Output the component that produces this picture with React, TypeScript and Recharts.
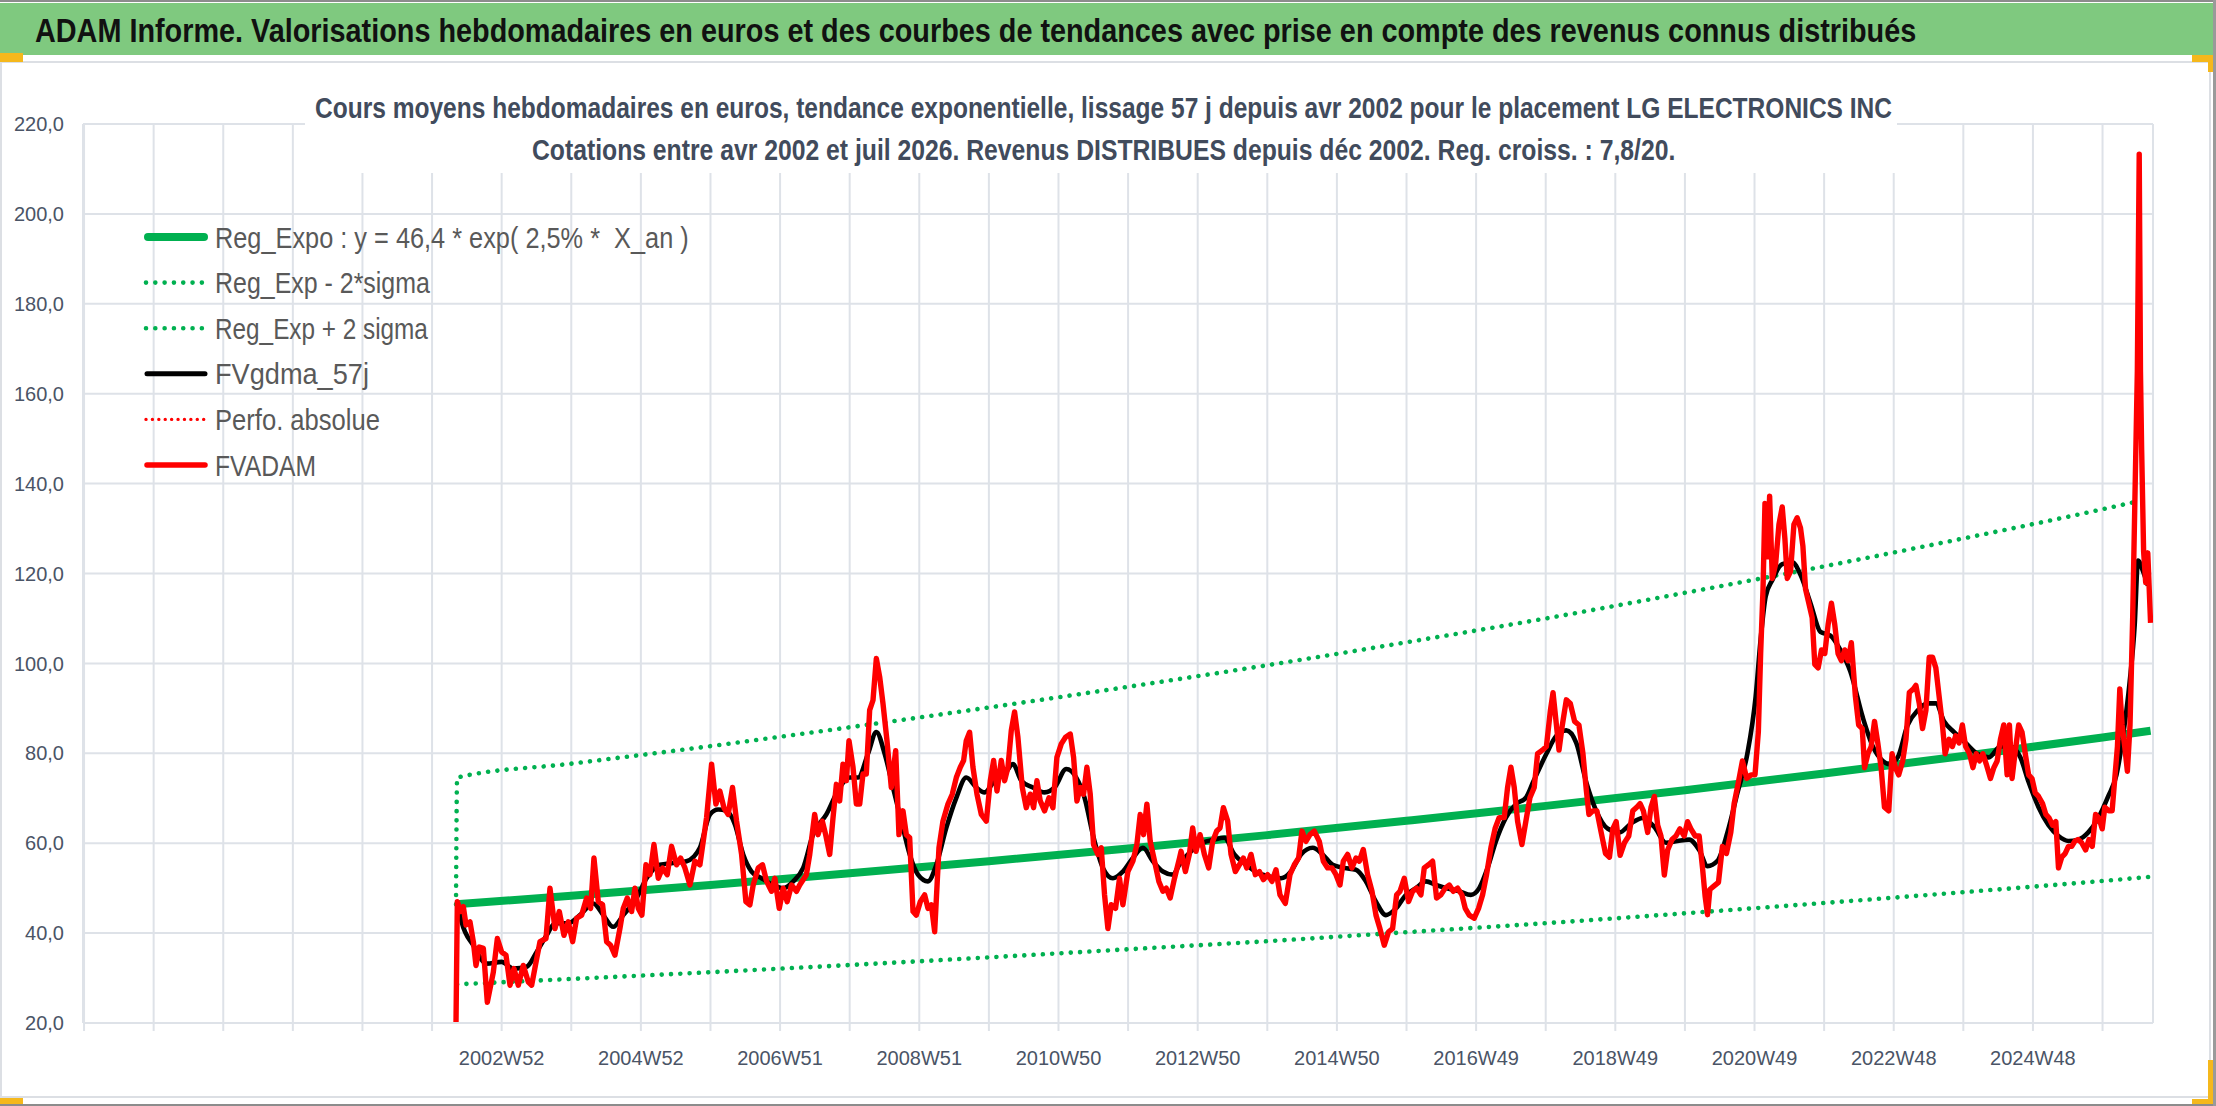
import React, { useLayoutEffect, useRef, useState } from "react";
import { LineChart, Line, XAxis, YAxis, CartesianGrid, Legend } from "recharts";

// axes
const yTicks = [20, 40, 60, 80, 100, 120, 140, 160, 180, 200, 220];
const xTickYears = [
  1997, 1998, 1999, 2000, 2001, 2002, 2003, 2004, 2005, 2006, 2007, 2008, 2009, 2010, 2011,
  2012, 2013, 2014, 2015, 2016, 2017, 2018, 2019, 2020, 2021, 2022, 2023, 2024, 2025, 2026,
];
const xLabelYears = [2003, 2005, 2007, 2009, 2011, 2013, 2015, 2017, 2019, 2021, 2023, 2025];
const xLabels = [
  "2002W52", "2004W52", "2006W51", "2008W51", "2010W50", "2012W50",
  "2014W50", "2016W49", "2018W49", "2020W49", "2022W48", "2024W48",
];

const legendNames = [
  "Reg_Expo : y = 46,4 * exp( 2,5% *  X_an )",
  "Reg_Exp - 2*sigma",
  "Reg_Exp + 2 sigma",
  "FVgdma_57j",
  "Perfo. absolue",
  "FVADAM",
];

// [year, value]
const regExpo: [number, number][] = [
  [2002.344, 46.4], [2004, 48.3], [2006, 50.7], [2008, 53.3], [2010, 56.0], [2012, 58.8],
  [2014, 61.8], [2016, 65.0], [2018, 68.3], [2020, 71.8], [2022, 75.5], [2024, 79.4],
  [2026, 83.5], [2026.69, 85.0],
];
const regExpMinus: [number, number][] = [
  [2002.36, 28.6], [2004, 29.8], [2006, 31.3], [2008, 32.9], [2010, 34.6], [2012, 36.4],
  [2014, 38.2], [2016, 40.2], [2018, 42.2], [2020, 44.4], [2022, 46.7], [2024, 49.1],
  [2026, 51.6], [2026.67, 52.5],
];
const regExpPlus: [number, number][] = [
  [2002.344, 46.4], [2002.36, 74.6], [2004, 77.7], [2006, 81.6], [2008, 85.8], [2010, 90.2],
  [2012, 94.8], [2014, 99.6], [2016, 104.7], [2018, 110.0], [2020, 115.7], [2022, 121.6],
  [2024, 127.8], [2026, 134.3], [2026.46, 135.9],
];

const fvgdma: [number, number][] = [
  [2002.363, 47.0], [2002.425, 42.5], [2002.593, 37.3], [2002.785, 33.2], [2003.0, 33.6],
  [2003.168, 32.1], [2003.359, 32.5], [2003.503, 35.8], [2003.646, 39.5], [2003.766, 42.2],
  [2003.957, 42.2], [2004.125, 44.0], [2004.316, 46.6], [2004.46, 44.0], [2004.603, 41.4],
  [2004.747, 44.0], [2004.938, 47.8], [2005.082, 52.2], [2005.274, 55.2], [2005.465, 55.6],
  [2005.656, 56.0], [2005.848, 59.0], [2005.992, 66.4], [2006.111, 67.5], [2006.231, 67.2],
  [2006.351, 64.2], [2006.47, 57.5], [2006.59, 53.7], [2006.734, 52.2], [2006.901, 50.7],
  [2007.045, 50.0], [2007.188, 51.5], [2007.332, 54.5], [2007.473, 61.9], [2007.665, 66.4],
  [2007.856, 72.4], [2008.0, 74.6], [2008.12, 74.6], [2008.263, 79.9], [2008.383, 84.7],
  [2008.503, 79.9], [2008.622, 72.4], [2008.742, 64.9], [2008.862, 57.5], [2008.981, 53.0],
  [2009.125, 51.5], [2009.245, 55.2], [2009.388, 63.4], [2009.532, 70.1], [2009.675, 74.6],
  [2009.819, 72.4], [2009.939, 71.3], [2010.082, 73.9], [2010.226, 75.4], [2010.346, 77.6],
  [2010.465, 73.9], [2010.633, 72.4], [2010.8, 71.3], [2010.944, 72.4], [2011.112, 76.5],
  [2011.255, 74.6], [2011.375, 70.1], [2011.494, 61.9], [2011.638, 54.5], [2011.782, 52.2],
  [2011.925, 53.7], [2012.069, 56.7], [2012.213, 59.0], [2012.356, 56.0], [2012.5, 53.7],
  [2012.643, 53.0], [2012.737, 55.2], [2012.904, 58.2], [2013.072, 60.1], [2013.239, 60.8],
  [2013.383, 61.2], [2013.527, 57.5], [2013.694, 55.2], [2013.862, 53.4], [2014.029, 52.6],
  [2014.197, 52.2], [2014.34, 53.7], [2014.484, 57.5], [2014.652, 59.0], [2014.795, 57.5],
  [2014.939, 55.2], [2015.106, 54.5], [2015.274, 54.1], [2015.417, 51.5], [2015.561, 47.0],
  [2015.705, 44.0], [2015.848, 45.5], [2015.992, 48.5], [2016.136, 50.0], [2016.279, 51.5],
  [2016.423, 50.7], [2016.566, 50.0], [2016.758, 49.3], [2016.925, 48.5], [2017.045, 50.0],
  [2017.165, 54.5], [2017.284, 60.4], [2017.428, 65.7], [2017.572, 68.7], [2017.715, 70.1],
  [2017.819, 73.6], [2018.01, 79.9], [2018.153, 83.9], [2018.296, 85.1], [2018.439, 82.3],
  [2018.582, 73.6], [2018.726, 67.2], [2018.893, 63.2], [2019.06, 62.4], [2019.227, 64.4],
  [2019.394, 65.6], [2019.561, 63.6], [2019.728, 60.1], [2019.895, 60.5], [2020.062, 60.8],
  [2020.205, 58.5], [2020.325, 54.9], [2020.468, 56.1], [2020.611, 62.4], [2020.754, 71.2],
  [2020.897, 79.9], [2021.017, 92.7], [2021.088, 105.4], [2021.16, 114.9], [2021.255, 118.5],
  [2021.398, 122.1], [2021.542, 122.5], [2021.661, 119.7], [2021.804, 113.4], [2021.947, 107.0],
  [2022.091, 106.2], [2022.234, 103.0], [2022.377, 98.2], [2022.557, 87.9], [2022.7, 81.5],
  [2022.843, 78.3], [2022.938, 77.6], [2023.057, 79.1], [2023.2, 86.3], [2023.343, 89.5],
  [2023.486, 91.1], [2023.605, 91.1], [2023.724, 87.1], [2023.867, 84.7], [2024.033, 82.3],
  [2024.2, 79.9], [2024.367, 79.1], [2024.533, 81.5], [2024.676, 81.5], [2024.819, 79.1],
  [2024.938, 73.6], [2025.081, 68.0], [2025.224, 64.0], [2025.367, 61.6], [2025.51, 60.5],
  [2025.652, 60.8], [2025.795, 62.4], [2025.938, 65.6], [2026.081, 70.4], [2026.2, 75.2],
  [2026.295, 83.9], [2026.39, 95.9], [2026.462, 108.6], [2026.51, 122.9], [2026.581, 120.5],
  [2026.652, 117.3],
];

const fvadam: [number, number][] = [
  [2002.344, 20], [2002.363, 47.0], [2002.411, 44.8], [2002.449, 45.9], [2002.488, 41.8],
  [2002.545, 42.5], [2002.593, 38.1], [2002.631, 32.8], [2002.679, 36.9], [2002.737, 36.6],
  [2002.794, 24.6], [2002.88, 31.3], [2002.938, 38.8], [2003.0, 35.8], [2003.062, 35.1],
  [2003.12, 28.4], [2003.177, 32.1], [2003.239, 28.4], [2003.311, 32.8], [2003.383, 29.1],
  [2003.431, 28.4], [2003.503, 34.3], [2003.551, 38.1], [2003.637, 38.8], [2003.694, 50.0],
  [2003.766, 41.0], [2003.828, 44.8], [2003.895, 39.5], [2003.957, 42.5], [2004.02, 38.1],
  [2004.077, 43.3], [2004.149, 44.0], [2004.221, 47.8], [2004.278, 45.5], [2004.326, 56.7],
  [2004.388, 47.0], [2004.45, 46.3], [2004.508, 38.1], [2004.565, 37.3], [2004.627, 35.1],
  [2004.699, 41.0], [2004.747, 45.5], [2004.805, 47.8], [2004.867, 44.8], [2004.915, 50.0],
  [2004.963, 45.5], [2005.015, 44.0], [2005.073, 55.2], [2005.13, 53.0], [2005.188, 59.7],
  [2005.25, 52.2], [2005.312, 54.5], [2005.379, 53.0], [2005.441, 59.3], [2005.513, 55.2],
  [2005.571, 56.7], [2005.633, 54.5], [2005.705, 50.7], [2005.776, 56.0], [2005.848, 55.2],
  [2005.896, 60.4], [2005.944, 65.7], [2006.016, 77.6], [2006.078, 68.7], [2006.135, 71.6],
  [2006.193, 67.9], [2006.255, 66.4], [2006.317, 72.4], [2006.375, 64.9], [2006.447, 57.5],
  [2006.509, 47.0], [2006.566, 46.3], [2006.614, 50.7], [2006.686, 54.5], [2006.748, 55.2],
  [2006.806, 51.5], [2006.877, 49.3], [2006.925, 52.2], [2006.988, 45.5], [2007.045, 50.0],
  [2007.102, 47.0], [2007.165, 50.7], [2007.236, 49.3], [2007.282, 50.7], [2007.378, 53.0],
  [2007.426, 57.5], [2007.497, 66.4], [2007.545, 61.9], [2007.607, 64.9], [2007.655, 61.9],
  [2007.713, 57.5], [2007.761, 65.7], [2007.809, 73.1], [2007.856, 69.4], [2007.904, 77.6],
  [2007.952, 73.9], [2007.99, 82.8], [2008.048, 76.9], [2008.096, 68.7], [2008.144, 68.7],
  [2008.191, 75.4], [2008.239, 75.4], [2008.287, 89.6], [2008.335, 91.8], [2008.383, 101.1],
  [2008.431, 97.0], [2008.479, 91.0], [2008.536, 82.8], [2008.598, 72.4], [2008.661, 80.6],
  [2008.708, 61.9], [2008.766, 67.2], [2008.814, 61.9], [2008.862, 61.2], [2008.91, 44.8],
  [2008.957, 44.0], [2009.015, 47.0], [2009.077, 48.5], [2009.125, 45.5], [2009.173, 46.3],
  [2009.221, 40.3], [2009.283, 59.0], [2009.34, 64.9], [2009.412, 68.7], [2009.474, 70.9],
  [2009.532, 74.6], [2009.589, 76.9], [2009.637, 78.4], [2009.675, 82.8], [2009.723, 84.7],
  [2009.771, 76.9], [2009.829, 70.9], [2009.891, 66.4], [2009.963, 64.9], [2010.02, 73.9],
  [2010.068, 78.4], [2010.116, 71.6], [2010.178, 78.4], [2010.226, 73.9], [2010.274, 76.9],
  [2010.322, 85.1], [2010.369, 89.2], [2010.417, 83.6], [2010.48, 72.4], [2010.537, 67.9],
  [2010.594, 70.9], [2010.642, 67.9], [2010.69, 73.9], [2010.738, 69.4], [2010.8, 67.2],
  [2010.863, 70.1], [2010.92, 67.9], [2010.977, 79.1], [2011.04, 82.1], [2011.102, 83.6],
  [2011.169, 84.3], [2011.217, 79.1], [2011.265, 69.4], [2011.313, 72.4], [2011.36, 70.9],
  [2011.408, 76.9], [2011.456, 70.9], [2011.504, 59.7], [2011.566, 57.5], [2011.614, 59.0],
  [2011.662, 48.5], [2011.71, 41.0], [2011.758, 46.3], [2011.82, 45.5], [2011.877, 52.2],
  [2011.925, 46.3], [2011.997, 53.7], [2012.069, 56.0], [2012.126, 59.7], [2012.174, 66.4],
  [2012.222, 61.9], [2012.27, 68.7], [2012.318, 60.4], [2012.38, 56.0], [2012.442, 51.5],
  [2012.5, 49.3], [2012.548, 50.0], [2012.605, 47.8], [2012.667, 52.2], [2012.739, 56.7],
  [2012.761, 58.2], [2012.823, 53.7], [2012.88, 57.5], [2012.928, 63.4], [2012.976, 58.2],
  [2013.034, 61.9], [2013.096, 57.5], [2013.158, 54.5], [2013.215, 60.4], [2013.273, 62.7],
  [2013.321, 63.4], [2013.369, 67.9], [2013.431, 64.9], [2013.479, 57.5], [2013.541, 53.7],
  [2013.598, 55.2], [2013.656, 56.7], [2013.704, 54.5], [2013.766, 57.5], [2013.828, 53.0],
  [2013.886, 53.7], [2013.943, 51.9], [2014.005, 53.0], [2014.067, 51.5], [2014.125, 54.1],
  [2014.182, 48.5], [2014.259, 46.6], [2014.326, 53.0], [2014.388, 55.2], [2014.45, 56.7],
  [2014.498, 62.7], [2014.555, 60.4], [2014.613, 61.9], [2014.675, 62.7], [2014.747, 60.4],
  [2014.805, 56.0], [2014.867, 54.5], [2014.929, 54.5], [2014.987, 53.0], [2015.044, 50.7],
  [2015.092, 56.0], [2015.154, 57.5], [2015.216, 54.5], [2015.274, 56.7], [2015.322, 56.0],
  [2015.379, 58.6], [2015.441, 53.0], [2015.504, 49.3], [2015.561, 44.0], [2015.618, 41.0],
  [2015.681, 37.3], [2015.743, 40.3], [2015.8, 41.0], [2015.858, 48.5], [2015.906, 49.3],
  [2015.968, 52.2], [2016.03, 47.0], [2016.088, 49.3], [2016.145, 50.0], [2016.207, 48.5],
  [2016.255, 54.5], [2016.317, 55.2], [2016.375, 56.0], [2016.432, 47.8], [2016.494, 48.5],
  [2016.557, 50.0], [2016.614, 50.7], [2016.672, 49.3], [2016.734, 50.0], [2016.796, 48.5],
  [2016.844, 45.5], [2016.901, 44.0], [2016.973, 43.3], [2017.035, 45.5], [2017.093, 48.5],
  [2017.15, 53.0], [2017.213, 59.0], [2017.275, 63.4], [2017.332, 65.7], [2017.404, 65.7],
  [2017.452, 72.4], [2017.5, 76.9], [2017.548, 72.4], [2017.596, 64.9], [2017.658, 59.7],
  [2017.715, 64.9], [2017.773, 70.1], [2017.835, 72.4], [2017.883, 79.9], [2017.952, 80.7],
  [2018.01, 81.5], [2018.067, 89.5], [2018.105, 93.5], [2018.143, 87.9], [2018.191, 80.7],
  [2018.239, 86.3], [2018.296, 91.9], [2018.353, 91.1], [2018.415, 87.1], [2018.477, 86.3],
  [2018.535, 79.9], [2018.582, 72.0], [2018.621, 66.4], [2018.678, 67.2], [2018.735, 67.2],
  [2018.797, 62.4], [2018.859, 57.7], [2018.916, 56.9], [2018.964, 63.2], [2019.012, 64.8],
  [2019.069, 57.3], [2019.131, 60.1], [2019.193, 61.6], [2019.251, 67.2], [2019.308, 68.0],
  [2019.356, 68.8], [2019.403, 67.2], [2019.465, 62.4], [2019.513, 68.0], [2019.561, 70.4],
  [2019.609, 64.0], [2019.656, 61.6], [2019.704, 52.9], [2019.752, 58.5], [2019.814, 60.8],
  [2019.871, 61.6], [2019.928, 63.2], [2019.99, 61.6], [2020.038, 64.8], [2020.086, 63.2],
  [2020.148, 61.6], [2020.205, 61.6], [2020.253, 54.5], [2020.291, 48.1], [2020.325, 44.1],
  [2020.358, 49.7], [2020.42, 50.5], [2020.482, 51.3], [2020.539, 59.3], [2020.597, 57.7],
  [2020.659, 62.4], [2020.707, 68.8], [2020.769, 73.6], [2020.826, 78.3], [2020.888, 74.4],
  [2020.95, 75.2], [2021.007, 75.2], [2021.055, 84.8], [2021.088, 102.2], [2021.122, 116.5],
  [2021.15, 135.6], [2021.184, 123.7], [2021.217, 137.2], [2021.255, 118.9], [2021.303, 122.1],
  [2021.351, 130.9], [2021.398, 134.8], [2021.437, 127.6], [2021.47, 118.9], [2021.518, 120.5],
  [2021.566, 130.9], [2021.613, 132.4], [2021.661, 130.1], [2021.695, 126.1], [2021.733, 116.5],
  [2021.78, 113.4], [2021.828, 110.2], [2021.866, 99.8], [2021.914, 99.0], [2021.962, 103.0],
  [2022.01, 102.2], [2022.057, 108.6], [2022.105, 113.4], [2022.153, 108.6], [2022.2, 102.2],
  [2022.248, 100.6], [2022.296, 103.0], [2022.344, 100.6], [2022.391, 104.6], [2022.449, 92.7],
  [2022.496, 86.3], [2022.548, 85.5], [2022.581, 76.8], [2022.629, 79.9], [2022.676, 81.5],
  [2022.724, 87.1], [2022.771, 82.3], [2022.819, 76.8], [2022.867, 68.0], [2022.929, 67.2],
  [2022.976, 79.9], [2023.024, 76.8], [2023.071, 75.2], [2023.129, 78.3], [2023.176, 83.1],
  [2023.224, 93.5], [2023.281, 94.3], [2023.319, 95.1], [2023.367, 91.1], [2023.414, 85.5],
  [2023.462, 89.5], [2023.51, 101.4], [2023.557, 101.4], [2023.605, 99.0], [2023.652, 92.7],
  [2023.7, 86.3], [2023.738, 79.9], [2023.795, 83.1], [2023.843, 81.5], [2023.89, 83.9],
  [2023.938, 82.3], [2023.986, 86.3], [2024.033, 81.5], [2024.09, 79.9], [2024.138, 76.8],
  [2024.186, 79.9], [2024.233, 78.3], [2024.281, 79.9], [2024.329, 77.6], [2024.39, 74.4],
  [2024.438, 76.8], [2024.486, 78.3], [2024.533, 83.1], [2024.581, 86.3], [2024.629, 75.2],
  [2024.662, 86.3], [2024.7, 74.4], [2024.748, 80.7], [2024.795, 86.3], [2024.843, 84.7],
  [2024.89, 79.9], [2024.938, 75.2], [2024.986, 74.4], [2025.033, 71.2], [2025.081, 70.4],
  [2025.138, 68.8], [2025.186, 66.4], [2025.233, 65.6], [2025.281, 64.0], [2025.329, 64.8],
  [2025.367, 54.5], [2025.414, 56.9], [2025.462, 57.7], [2025.51, 59.3], [2025.557, 59.3],
  [2025.605, 60.5], [2025.652, 60.8], [2025.7, 60.1], [2025.757, 58.5], [2025.805, 60.8],
  [2025.852, 59.3], [2025.9, 66.4], [2025.948, 65.6], [2025.995, 63.2], [2026.033, 68.0],
  [2026.09, 67.2], [2026.138, 67.2], [2026.176, 74.4], [2026.214, 81.5], [2026.248, 94.3],
  [2026.281, 86.3], [2026.319, 81.5], [2026.357, 76.0], [2026.395, 86.3], [2026.433, 110.2],
  [2026.462, 134.0], [2026.5, 165.0], [2026.527, 213.3], [2026.545, 165.0], [2026.562, 147.5],
  [2026.59, 125.0], [2026.62, 118.0], [2026.65, 124.6], [2026.69, 109.0],
];

const FONT = '"Liberation Sans", Arial, sans-serif';
const GRID = "#dee2e8";
const AXIS_TEXT = "#4a5466";
const TITLE_TEXT = "#414b5c";
const GREEN = "#00b050";
const RED = "#ff0000";
const HANDLE = "#f5b81c";

const toPoints = (rows: [number, number][]) => rows.map(([x, v]) => ({ x, v }));

const fmtY = (v: number) => v.toFixed(1).replace(".", ",");
const fmtX = (v: number) => {
  const i = xLabelYears.indexOf(v);
  return i >= 0 ? xLabels[i] : "";
};

// text squeezed horizontally to a measured width (the source font is a narrow one)
function FitText({ x, y, width, size, bold, fill, children }: {
  x: number; y: number; width: number; size: number; bold?: boolean; fill: string; children: string;
}) {
  const ref = useRef<SVGTextElement>(null);
  const [sx, setSx] = useState(1);
  useLayoutEffect(() => {
    if (ref.current) {
      const w = ref.current.getComputedTextLength();
      if (w > 0) setSx(width / w);
    }
  }, [width, children, size]);
  return (
    <text
      ref={ref}
      transform={`translate(${x},${y}) scale(${sx},1)`}
      fontSize={size}
      fontWeight={bold ? "bold" : "normal"}
      fill={fill}
      fontFamily={FONT}
      style={{ whiteSpace: "pre" }}
    >
      {children}
    </text>
  );
}

const legendWidths = [474, 215, 213, 154, 165, 101];

function LegendSample({ i, y }: { i: number; y: number }) {
  if (i === 0)
    return <line x1={148} x2={204} y1={y} y2={y} stroke={GREEN} strokeWidth={8} strokeLinecap="round" />;
  if (i === 1 || i === 2)
    return (
      <line x1={146} x2={206} y1={y} y2={y} stroke={GREEN} strokeWidth={4.6}
        strokeLinecap="round" strokeDasharray="0.01 9.3" />
    );
  if (i === 3)
    return <line x1={147} x2={205} y1={y} y2={y} stroke="#000" strokeWidth={5} strokeLinecap="round" />;
  if (i === 4)
    return (
      <line x1={146} x2={206} y1={y} y2={y} stroke={RED} strokeWidth={3.4}
        strokeLinecap="round" strokeDasharray="0.01 6.4" />
    );
  return <line x1={147} x2={205} y1={y} y2={y} stroke={RED} strokeWidth={5.5} strokeLinecap="round" />;
}

function LegendBox() {
  return (
    <svg width={2216} height={1106} style={{ display: "block" }}>
      {legendNames.map((name, i) => {
        const y = 237 + i * 45.6;
        return (
          <g key={name}>
            <LegendSample i={i} y={y} />
            <FitText x={215} y={y + 10.5} width={legendWidths[i]} size={30} fill="#595959">
              {name}
            </FitText>
          </g>
        );
      })}
    </svg>
  );
}

export default function App() {
  return (
    <div
      style={{
        position: "absolute",
        left: 0,
        top: 0,
        width: 2216,
        height: 1106,
        background: "#fff",
        overflow: "hidden",
        fontFamily: FONT,
      }}
    >
      {/* outer frame */}
      <div style={{ position: "absolute", left: 0, top: 0, width: 2216, height: 2, background: "#8c8c8c" }} />
      <div style={{ position: "absolute", left: 0, top: 1104, width: 2216, height: 2, background: "#8c8c8c" }} />
      <div style={{ position: "absolute", left: 2213, top: 0, width: 3, height: 1106, background: "#9a9a9a" }} />

      {/* green banner */}
      <div style={{ position: "absolute", left: 0, top: 3, width: 2213, height: 52, background: "#7fc97f" }}>
        <svg width={2213} height={52} style={{ display: "block" }}>
          <FitText x={35} y={39} width={1882} size={33} bold fill="#111">
            ADAM Informe. Valorisations hebdomadaires en euros et des courbes de tendances avec prise en compte des revenus connus distribués
          </FitText>
        </svg>
      </div>

      {/* chart area border */}
      <div
        style={{
          position: "absolute",
          left: 0,
          top: 61,
          width: 2211,
          height: 1037,
          border: "2px solid #dcdfe4",
          boxSizing: "border-box",
        }}
      />

      <LineChart
        width={2216}
        height={1106}
        margin={{ top: 124, right: 63, bottom: 53, left: 23 }}
        style={{ position: "absolute", left: 0, top: 0, fontFamily: FONT }}
      >
        <CartesianGrid stroke={GRID} strokeWidth={2} />
        <XAxis
          type="number"
          dataKey="x"
          domain={[1996.985, 2026.725]}
          allowDataOverflow
          ticks={xTickYears}
          interval={0}
          tickFormatter={fmtX}
          height={30}
          tickSize={8}
          tickMargin={20}
          tick={{ fill: AXIS_TEXT, fontSize: 20 }}
          tickLine={{ stroke: GRID, strokeWidth: 2 }}
          axisLine={{ stroke: GRID, strokeWidth: 2 }}
        />
        <YAxis
          type="number"
          domain={[20, 220]}
          allowDataOverflow
          ticks={yTicks}
          interval={0}
          tickFormatter={fmtY}
          width={60}
          axisLine={false}
          tickLine={false}
          tickSize={0}
          tickMargin={19}
          tick={{ fill: AXIS_TEXT, fontSize: 20 }}
        />
        <Legend
          layout="vertical"
          align="center"
          verticalAlign="middle"
          wrapperStyle={{ left: 0, top: 0, width: 2216, height: 1106, pointerEvents: "none" }}
          content={() => <LegendBox />}
        />
        <Line
          data={toPoints(regExpMinus)}
          dataKey="v"
          name="Reg_Exp - 2*sigma"
          type="monotone"
          stroke={GREEN}
          strokeWidth={4.6}
          strokeLinecap="round"
          strokeDasharray="0.01 9.3"
          dot={false}
          activeDot={false}
          isAnimationActive={false}
        />
        <Line
          data={toPoints(regExpPlus)}
          dataKey="v"
          name="Reg_Exp + 2 sigma"
          type="monotone"
          stroke={GREEN}
          strokeWidth={4.6}
          strokeLinecap="round"
          strokeDasharray="0.01 9.3"
          dot={false}
          activeDot={false}
          isAnimationActive={false}
        />
        <Line
          data={toPoints(regExpo)}
          dataKey="v"
          name="Reg_Expo"
          type="monotone"
          stroke={GREEN}
          strokeWidth={8}
          dot={false}
          activeDot={false}
          isAnimationActive={false}
        />
        <Line
          data={toPoints(fvgdma)}
          dataKey="v"
          name="FVgdma_57j"
          type="monotone"
          stroke="#000"
          strokeWidth={4.6}
          dot={false}
          activeDot={false}
          isAnimationActive={false}
        />
        <Line
          data={toPoints(fvadam)}
          dataKey="v"
          name="FVADAM"
          type="linear"
          stroke={RED}
          strokeWidth={5.4}
          strokeLinejoin="round"
          dot={false}
          activeDot={false}
          isAnimationActive={false}
        />
      </LineChart>

      {/* chart title box */}
      <div style={{ position: "absolute", left: 305, top: 64, width: 1592, height: 109, background: "#fff" }}>
        <svg width={1592} height={109} style={{ display: "block" }}>
          <FitText x={10} y={54} width={1578} size={30} bold fill={TITLE_TEXT}>
            Cours moyens hebdomadaires en euros, tendance exponentielle, lissage 57 j depuis avr 2002 pour le placement LG ELECTRONICS INC
          </FitText>
          <FitText x={227} y={96} width={1144} size={29} bold fill={TITLE_TEXT}>
            Cotations entre avr 2002 et juil 2026. Revenus DISTRIBUES depuis déc 2002. Reg. croiss. : 7,8/20.
          </FitText>
        </svg>
      </div>

      {/* selection handles */}
      <div style={{ position: "absolute", left: 0, top: 53, width: 23, height: 9, background: HANDLE }} />
      <div style={{ position: "absolute", left: 2192, top: 55, width: 21, height: 7, background: HANDLE }} />
      <div style={{ position: "absolute", left: 2208, top: 55, width: 5, height: 17, background: HANDLE }} />
      <div style={{ position: "absolute", left: 0, top: 1098, width: 23, height: 6, background: HANDLE }} />
      <div style={{ position: "absolute", left: 2208, top: 1060, width: 5, height: 44, background: HANDLE }} />
      <div style={{ position: "absolute", left: 2192, top: 1099, width: 21, height: 5, background: HANDLE }} />
    </div>
  );
}
